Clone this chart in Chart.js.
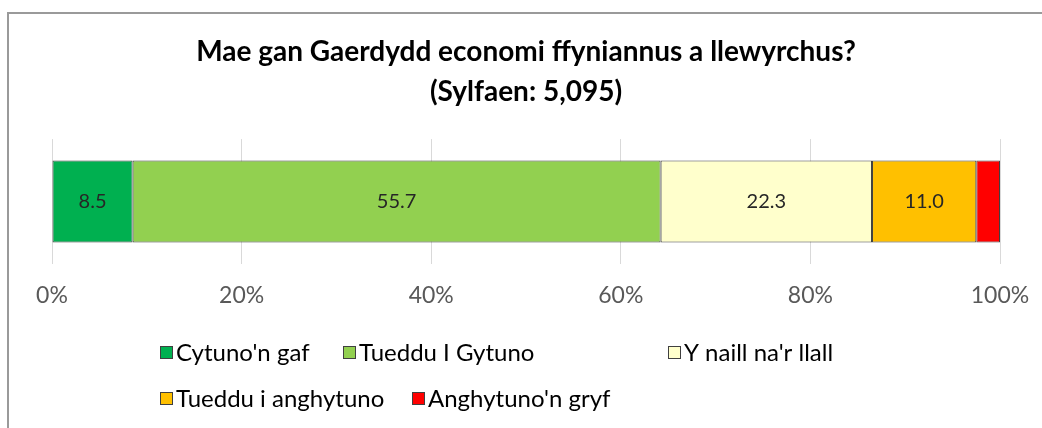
<!DOCTYPE html>
<html>
<head>
<meta charset="utf-8">
<script src="https://cdn.jsdelivr.net/npm/chart.js@4.4.1/dist/chart.umd.min.js"></script>
<style>
  html, body { margin: 0; padding: 0; background: #fff; overflow: hidden; }
  #frame { position: absolute; left: 7px; top: 12px; width: 1100px; height: 500px; border: 2px solid #9a9a9a; }
  #chart { position: absolute; left: 0; top: 0; }
</style>
</head>
<body>
<div id="frame"></div>
<canvas id="chart" width="1042" height="428"></canvas>
<script>
// 데이터
const titleLines = ['Mae gan Gaerdydd economi ffyniannus a llewyrchus?', '(Sylfaen: 5,095)'];
const categories = [''];
const seriesNames = ["Cytuno'n gaf", 'Tueddu I Gytuno', "Y naill na'r llall", 'Tueddu i anghytuno', "Anghytuno'n gryf"];
const seriesValues = [8.5, 55.7, 22.3, 11.0, 2.5];
const seriesColors = ['#00B050', '#92D050', '#FFFFCC', '#FFC000', '#FF0000'];
const xTicks = [0, 20, 40, 60, 80, 100];

const FONT = 'Lato, "Open Sans", sans-serif';

// 막대 안 값 표시 (작은 조각은 생략)
const valueLabels = {
    id: 'valueLabels',
    afterDatasetsDraw(chart) {
        const ctx = chart.ctx;
        ctx.save();
        ctx.font = '20px ' + FONT;
        ctx.fillStyle = '#262626';
        ctx.textAlign = 'center';
        ctx.textBaseline = 'middle';
        chart.data.datasets.forEach((ds, i) => {
            const v = ds.data[0];
            if (v < 5) return;
            const bar = chart.getDatasetMeta(i).data[0];
            const x = (bar.x + bar.base) / 2;
            ctx.fillText(v.toFixed(1), x, bar.y);
        });
        ctx.restore();
    }
};

// 범례 - 엑셀처럼 두 줄, 왼쪽 정렬
const legendSlots = [
    { row: 0, x: 160 }, { row: 0, x: 343 }, { row: 0, x: 668 },
    { row: 1, x: 160 }, { row: 1, x: 412 }
];
const customLegend = {
    id: 'customLegend',
    afterDraw(chart) {
        const ctx = chart.ctx;
        ctx.save();
        ctx.font = '24px ' + FONT;
        ctx.textBaseline = 'middle';
        chart.data.datasets.forEach((ds, i) => {
            const s = legendSlots[i];
            const y = 352 + s.row * 46;
            ctx.fillStyle = ds.backgroundColor;
            ctx.fillRect(s.x, y - 6, 13, 13);
            ctx.strokeStyle = '#404040';
            ctx.lineWidth = 1;
            ctx.strokeRect(s.x + 0.5, y - 5.5, 12, 12);
            ctx.fillStyle = '#000';
            ctx.fillText(ds.label, s.x + 16, y + 1);
        });
        ctx.restore();
    }
};

const chart = new Chart(document.getElementById('chart').getContext('2d'), {
    type: 'bar',
    data: {
        labels: categories,
        datasets: seriesNames.map((name, i) => ({
            label: name
            ,data: [seriesValues[i]]
            ,backgroundColor: seriesColors[i]
            ,borderColor: '#404040'
            ,borderWidth: 1
            ,borderSkipped: false
            ,barPercentage: 1
            ,categoryPercentage: 0.656
        }))
    },
    options: {
        indexAxis: 'y',
        responsive: false,
        maintainAspectRatio: false,
        animation: false,
        layout: { padding: { left: 52, right: 42, top: 0, bottom: 114 } },
        plugins: {
            legend: { display: false },
            tooltip: { enabled: false },
            title: {
                display: true,
                text: titleLines,
                color: '#000',
                font: { family: FONT, size: 28, weight: 'bold', lineHeight: 1.43 },
                padding: { top: 32, bottom: 27 }
            }
        },
        scales: {
            x: {
                stacked: true, min: 0, max: 100,
                afterBuildTicks: (axis) => { axis.ticks = xTicks.map(v => ({ value: v })); },
                afterFit: (s) => { s.paddingLeft = 0; s.paddingRight = 0; s.height = 50; },
                ticks: { callback: v => v + '%', color: '#595959', font: { family: FONT, size: 23 }, padding: 18, maxRotation: 0 },
                grid: { color: '#d9d9d9', drawTicks: false },
                border: { display: false }
            },
            y: { stacked: true, display: false }
        }
    },
    plugins: [valueLabels, customLegend]
});
</script>
</body>
</html>
